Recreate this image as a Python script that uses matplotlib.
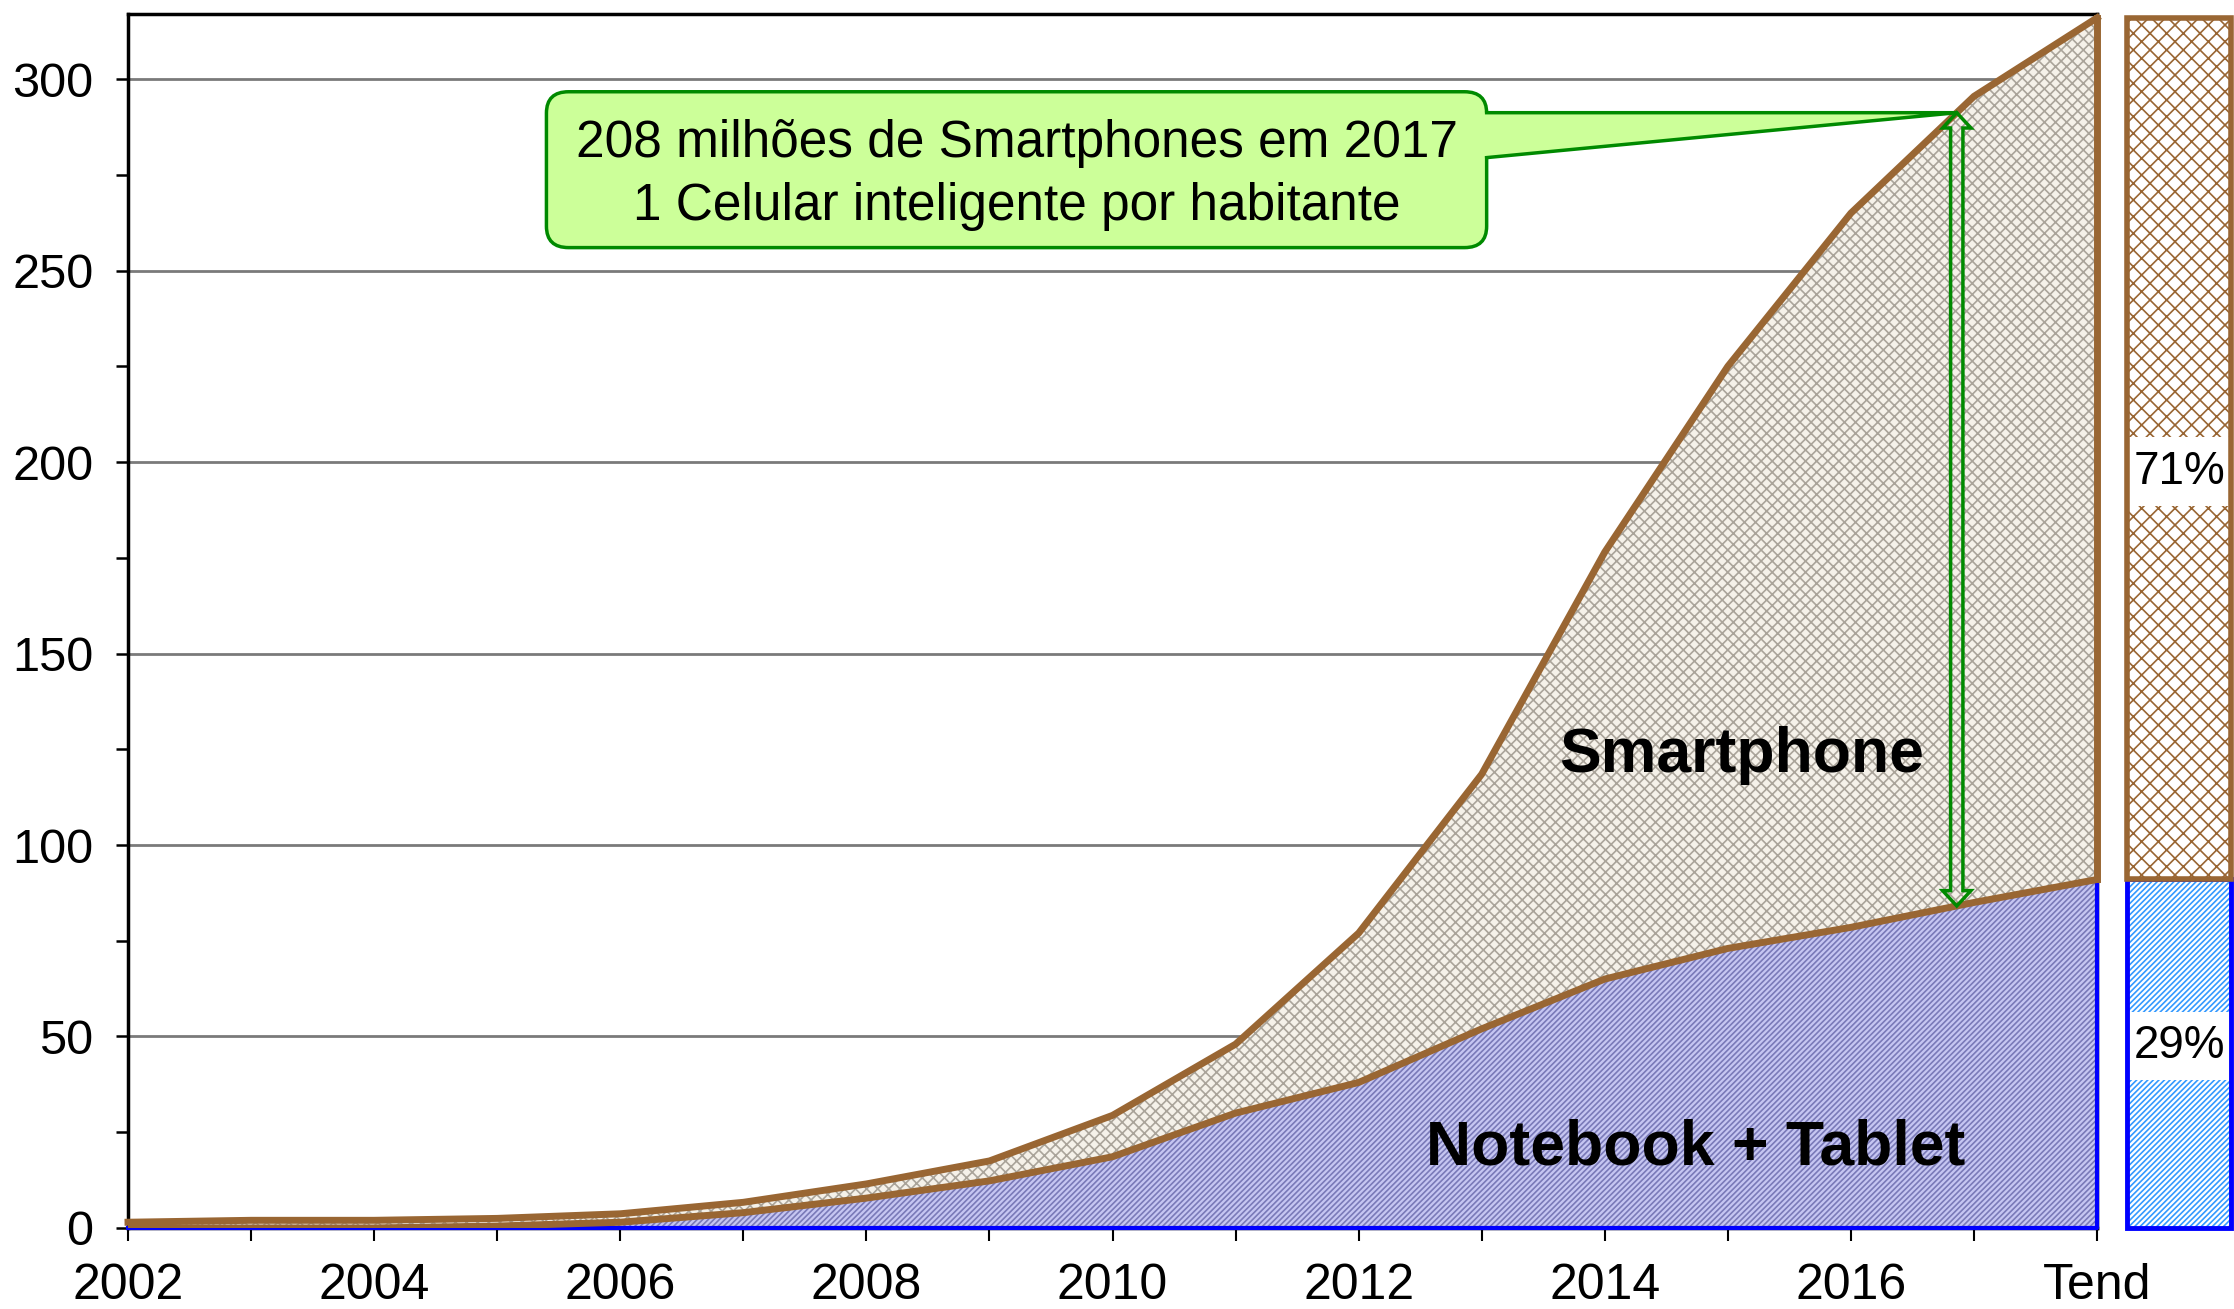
import numpy as np
import matplotlib
matplotlib.use('Agg')
import matplotlib.pyplot as plt
from matplotlib.patches import FancyBboxPatch, Polygon, Rectangle

plt.rcParams['font.family'] = ['Liberation Sans', 'DejaVu Sans']
plt.rcParams['hatch.linewidth'] = 1.2

# data (millions of units)
years = [2002, 2003, 2004, 2005, 2006, 2007, 2008, 2009, 2010,
         2011, 2012, 2013, 2014, 2015, 2016, 2017, 2018]
total_units = [1.5, 2, 2, 2.5, 3.7, 6.7, 11.5, 17.5, 29.4,
               48, 77, 118.5, 176.5, 225, 265, 295.5, 316]
notebook_units = [0, 0, 0, 0.5, 1.5, 4, 7.8, 12.3, 18.6,
                  30, 38, 52, 65, 73, 78.5, 85, 91]
tick_years = [2002, 2004, 2006, 2008, 2010, 2012, 2014, 2016, 2018]
tick_labels = ['2002', '2004', '2006', '2008', '2010', '2012', '2014', '2016', 'Tend']
note_lines = ['208 milhões de Smartphones em 2017', '1 Celular inteligente por habitante']
arrow_year = 2016.86

BROWN = '#996633'
GREEN = '#008a00'

x = np.array(years, dtype=float)
tot = np.array(total_units)
nb = np.array(notebook_units)

fig = plt.figure(figsize=(22.34, 13.09), dpi=100)
ax = fig.add_axes([0.0573, 0.0619, 0.8814, 0.9274])

# areas
ax.fill_between(x, 0, nb, facecolor='#c6c6f2', edgecolor='#7a7ab8', hatch='//////', linewidth=0, zorder=2)
ax.fill_between(x, nb, tot, facecolor='#f5f1e9', edgecolor='#aaa49a', hatch='xxx', linewidth=0, zorder=2)

# outlines
ax.plot([x[0], x[-1], x[-1]], [0, 0, nb[-1]], color='#0000ff', lw=3, zorder=3, clip_on=False)
ax.plot(x, nb, color=BROWN, lw=5, zorder=4, solid_joinstyle='round')
ax.plot(x, tot, color=BROWN, lw=5, zorder=4, solid_joinstyle='round', clip_on=False)
ax.plot([x[-1], x[-1]], [nb[-1], tot[-1]], color=BROWN, lw=5, zorder=4, clip_on=False)

ax.set_xlim(2002, 2018)
ax.set_ylim(0, 317)

ax.set_yticks(np.arange(0, 301, 50))
ax.set_yticks(np.arange(25, 301, 50), minor=True)
ax.set_xticks(tick_years)
ax.set_xticklabels(tick_labels)
ax.set_xticks(np.arange(2003, 2018, 2), minor=True)
ax.tick_params(axis='y', which='both', direction='out', length=9, width=1.8, pad=16, labelsize=35)
ax.tick_params(axis='x', which='both', direction='out', length=9, width=1.5, pad=16, labelsize=36)

ax.set_axisbelow(True)
ax.yaxis.grid(True, which='major', color='#7a7a7a', lw=2)
for s in ax.spines.values():
    s.set_linewidth(2.5)
    s.set_color('black')

# labels on areas
ax.text(2015.11, 123.5, 'Smartphone', fontsize=45, fontweight='bold', ha='center', va='center', zorder=6)
ax.text(2014.74, 21, 'Notebook + Tablet', fontsize=45, fontweight='bold', ha='center', va='center', zorder=6)

# double-headed hollow arrow between the two curves
top = np.interp(arrow_year, x, tot)
bot = np.interp(arrow_year, x, nb)
sw, hw, hl = 0.05, 0.115, 4.0
arrow_pts = [(arrow_year, top), (arrow_year + hw, top - hl), (arrow_year + sw, top - hl),
             (arrow_year + sw, bot + hl), (arrow_year + hw, bot + hl), (arrow_year, bot),
             (arrow_year - hw, bot + hl), (arrow_year - sw, bot + hl),
             (arrow_year - sw, top - hl), (arrow_year - hw, top - hl)]
ax.add_patch(Polygon(arrow_pts, closed=True, facecolor='none', edgecolor=GREEN, lw=2.5, zorder=7))

# callout box
bx0, bx1, by0, by1 = 2005.40, 2013.04, 256.0, 296.7
box = FancyBboxPatch((bx0, by0), bx1 - bx0, by1 - by0,
                     boxstyle='round,pad=0,rounding_size=0.18', mutation_aspect=31,
                     facecolor='#ccff99', edgecolor=GREEN, lw=2.5, zorder=8)
ax.add_patch(box)
wedge = [(bx1 - 0.05, top), (arrow_year, top), (bx1 - 0.05, 279.5)]
ax.add_patch(Polygon(wedge, closed=True, facecolor='#ccff99', edgecolor='none', zorder=9))
ax.plot([bx1, arrow_year, bx1], [top, top, 279.5], color=GREEN, lw=2.5, zorder=9)
ax.text((bx0 + bx1) / 2, 283.2, note_lines[0], fontsize=37, ha='center', va='center', zorder=10)
ax.text((bx0 + bx1) / 2, 266.8, note_lines[1], fontsize=37, ha='center', va='center', zorder=10)

# share bar on the right
bax = fig.add_axes([2127 / 2234, 0.0619, 104 / 2234, 0.9274])
bax.set_xlim(0, 1)
bax.set_ylim(0, 317)
bax.axis('off')
bax.add_patch(Rectangle((0, 0), 1, nb[-1], facecolor='white', edgecolor='#3399ff', hatch='//////', lw=0, zorder=1))
bax.add_patch(Rectangle((0, nb[-1]), 1, tot[-1] - nb[-1], facecolor='white', edgecolor=BROWN, hatch='xx', lw=0, zorder=1))
share_nb = nb[-1] / tot[-1] * 100
bax.text(0.5, (tot[-1] + nb[-1]) / 2 - 6, f'{100 - share_nb:.0f}%', fontsize=33, ha='center', va='center',
         bbox=dict(facecolor='white', edgecolor='none', pad=9), zorder=2)
bax.text(0.5, nb[-1] / 2 + 2, f'{share_nb:.0f}%', fontsize=33, ha='center', va='center',
         bbox=dict(facecolor='white', edgecolor='none', pad=9), zorder=2)
bax.add_patch(Rectangle((0, 0), 1, nb[-1], facecolor='none', edgecolor='#0000ff', lw=3.5, clip_on=False, zorder=3))
bax.add_patch(Rectangle((0, nb[-1]), 1, tot[-1] - nb[-1], facecolor='none', edgecolor=BROWN, lw=4, clip_on=False, zorder=3))

fig.savefig('out.png', dpi=100)
